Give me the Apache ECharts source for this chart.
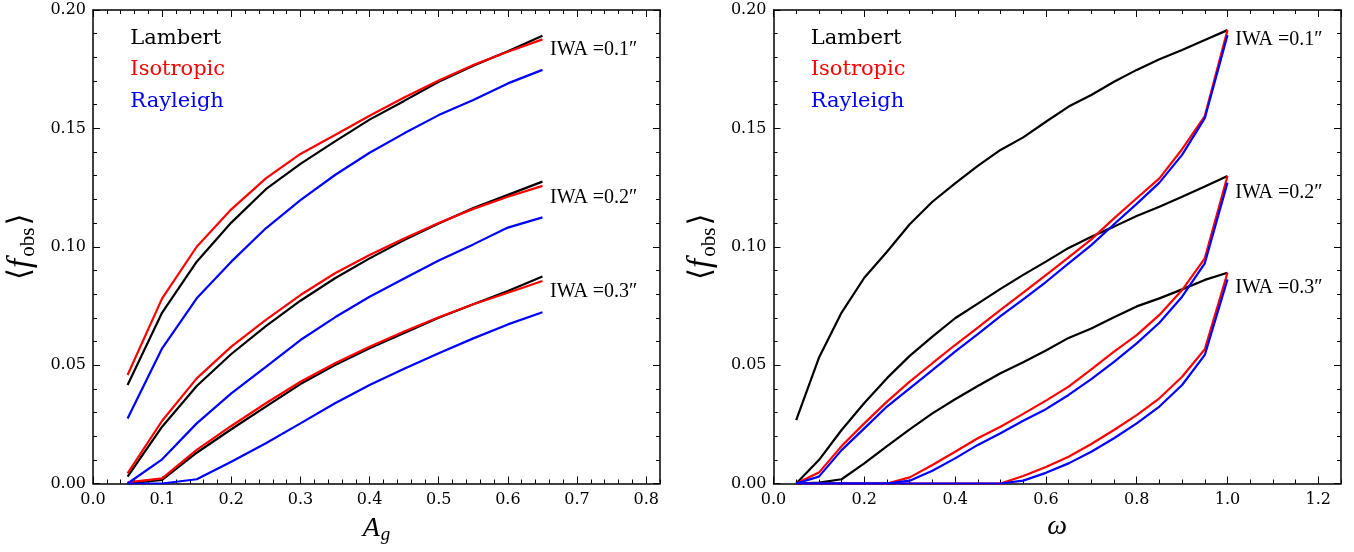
<!DOCTYPE html>
<html><head><meta charset="utf-8">
<script src="https://cdn.jsdelivr.net/npm/echarts@6/dist/echarts.min.js"></script>
<style>html,body{margin:0;padding:0;background:#fff}#c{width:1354px;height:552px}</style>
</head><body><div id="c"></div>
<script>
// ---- data: left panel (x = geometric albedo A_g) ----
const albedo = [0.05,0.10,0.15,0.20,0.25,0.30,0.35,0.40,0.45,0.50,0.55,0.60,0.65];
const agLambert1 = [0.0416,0.0722,0.0937,0.1102,0.1243,0.1350,0.1445,0.1537,0.1616,0.1697,0.1765,0.1826,0.1891];
const agIso1     = [0.0458,0.0782,0.1000,0.1158,0.1289,0.1392,0.1472,0.1553,0.1630,0.1702,0.1768,0.1824,0.1876];
const agRay1     = [0.0275,0.0571,0.0782,0.0937,0.1078,0.1197,0.1303,0.1397,0.1479,0.1556,0.1620,0.1690,0.1747];
const agLambert2 = [0.0029,0.0240,0.0412,0.0547,0.0665,0.0772,0.0867,0.0951,0.1028,0.1098,0.1164,0.1219,0.1275];
const agIso2     = [0.0043,0.0265,0.0444,0.0578,0.0691,0.0796,0.0888,0.0965,0.1035,0.1100,0.1160,0.1211,0.1257];
const agRay2     = [0.0000,0.0102,0.0254,0.0381,0.0493,0.0606,0.0702,0.0789,0.0866,0.0942,0.1010,0.1081,0.1124];
const agLambert3 = [0.0000,0.0015,0.0130,0.0229,0.0325,0.0420,0.0500,0.0571,0.0636,0.0700,0.0757,0.0813,0.0874];
const agIso3     = [0.0005,0.0022,0.0142,0.0243,0.0339,0.0430,0.0508,0.0578,0.0642,0.0702,0.0757,0.0806,0.0855];
const agRay3     = [0.0000,0.0000,0.0018,0.0092,0.0170,0.0254,0.0339,0.0416,0.0485,0.0550,0.0613,0.0672,0.0723];

// ---- data: right panel (x = single scattering albedo omega) ----
const omega = [0.05,0.10,0.15,0.20,0.25,0.30,0.35,0.40,0.45,0.50,0.55,0.60,0.65,0.70,0.75,0.80,0.85,0.90,0.95,1.00];
const wLambert1 = [0.0268,0.0531,0.0722,0.0869,0.0979,0.1095,0.1190,0.1268,0.1342,0.1409,0.1462,0.1528,0.1592,0.1641,0.1697,0.1747,0.1792,0.1831,0.1873,0.1915];
const wIso1     = [0.0000,0.0046,0.0158,0.0254,0.0346,0.0430,0.0508,0.0585,0.0658,0.0733,0.0806,0.0880,0.0955,0.1031,0.1120,0.1205,0.1289,0.1412,0.1552,0.1915];
const wRay1     = [0.0000,0.0029,0.0141,0.0233,0.0325,0.0402,0.0479,0.0557,0.0631,0.0707,0.0778,0.0851,0.0930,0.1007,0.1095,0.1181,0.1271,0.1388,0.1543,0.1894];
const wLambert2 = [0.0000,0.0099,0.0226,0.0340,0.0445,0.0539,0.0620,0.0698,0.0760,0.0822,0.0881,0.0937,0.0995,0.1042,0.1085,0.1130,0.1169,0.1211,0.1254,0.1299];
const wIso2     = [0.0000,0.0000,0.0000,0.0000,0.0000,0.0026,0.0078,0.0134,0.0191,0.0240,0.0294,0.0350,0.0409,0.0482,0.0557,0.0627,0.0712,0.0817,0.0951,0.1299];
const wRay2     = [0.0000,0.0000,0.0000,0.0000,0.0000,0.0012,0.0054,0.0106,0.0163,0.0212,0.0265,0.0314,0.0374,0.0441,0.0514,0.0592,0.0679,0.0789,0.0930,0.1271];
const wLambert3 = [0.0000,0.0004,0.0018,0.0085,0.0158,0.0229,0.0296,0.0356,0.0412,0.0466,0.0512,0.0562,0.0615,0.0655,0.0702,0.0748,0.0782,0.0820,0.0860,0.0890];
const wIso3     = [0.0000,0.0000,0.0000,0.0000,0.0000,0.0000,0.0000,0.0000,0.0000,0.0000,0.0032,0.0070,0.0113,0.0167,0.0226,0.0289,0.0360,0.0451,0.0567,0.0890];
const wRay3     = [0.0000,0.0000,0.0000,0.0000,0.0000,0.0000,0.0000,0.0000,0.0000,0.0000,0.0012,0.0045,0.0085,0.0134,0.0191,0.0254,0.0325,0.0416,0.0543,0.0862];

const modelNames = ['Lambert','Isotropic','Rayleigh'];
const modelColors = ['#000000','#ff0000','#0000ff'];
const iwaLabels = ['IWA =0.1\u2033','IWA =0.2\u2033','IWA =0.3\u2033'];

const leftSets  = [[agLambert1,agIso1,agRay1],[agLambert2,agIso2,agRay2],[agLambert3,agIso3,agRay3]];
const rightSets = [[wLambert1,wIso1,wRay1],[wLambert2,wIso2,wRay2],[wLambert3,wIso3,wRay3]];

const serif = "'DejaVu Serif', serif";
const mathF = "'Liberation Serif', 'DejaVu Serif', serif";

function xAx(gi, max, interval, pos, len, line, label, extra) {
  return Object.assign({
    type:'value', gridIndex:gi, position:pos, min:0, max:max, interval:interval,
    axisLine: line ? {show:true,onZero:false,lineStyle:{color:'#000',width:1.5}} : {show:false,onZero:false},
    axisTick:{show:true,inside:true,length:len,lineStyle:{color:'#000',width:1}},
    axisLabel: label ? {show:true,margin:8,color:'#000',fontFamily:serif,fontSize:16,showMaxLabel:false,
      formatter:function(v){return v.toFixed(1);}} : {show:false},
    splitLine:{show:false}, minorTick:{show:false}, axisPointer:{show:false}
  }, extra||{});
}
function yAx(gi, pos, label, extra) {
  return Object.assign({
    type:'value', gridIndex:gi, position:pos, min:0, max:0.2, interval:0.05,
    axisLine:{show:true,onZero:false,lineStyle:{color:'#000',width:1.5}},
    axisTick:{show:true,inside:true,length:7,lineStyle:{color:'#000',width:1}},
    minorTick:{show:true,splitNumber:5,length:4,lineStyle:{color:'#000',width:1}},
    axisLabel: label ? {show:true,margin:7,color:'#000',fontFamily:serif,fontSize:16,
      formatter:function(v){return v.toFixed(2);}} : {show:false},
    splitLine:{show:false}
  }, extra||{});
}

const yName = {
  name:'{b|\u27E8}{f|f}{s|obs}{b|\u27E9}', nameLocation:'middle', nameGap:54,
  nameTextStyle:{color:'#000', rich:{
    b:{fontFamily:"'DejaVu Sans', sans-serif", fontSize:31, color:'#000'},
    f:{fontFamily:mathF, fontStyle:'italic', fontSize:33, color:'#000', padding:[0,2,0,0]},
    s:{fontFamily:mathF, fontSize:21, color:'#000', padding:[15,2,0,0]}
  }}
};

const xAxes = [
  xAx(0, 0.82, 0.1, 'bottom', 7, true, true, {
    name:'{a|A}{s|g}', nameLocation:'middle', nameGap:30,
    nameTextStyle:{color:'#000', rich:{
      a:{fontFamily:mathF, fontStyle:'italic', fontSize:28, color:'#000'},
      s:{fontFamily:mathF, fontStyle:'italic', fontSize:19, color:'#000', padding:[12,0,0,1]}
    }}}),
  xAx(0, 0.82, 0.02, 'bottom', 4, false, false),
  xAx(0, 0.82, 0.1, 'top', 7, true, false),
  xAx(0, 0.82, 0.02, 'top', 4, false, false),
  xAx(1, 1.25, 0.2, 'bottom', 7, true, true, {
    name:'\u03C9', nameLocation:'middle', nameGap:28,
    nameTextStyle:{color:'#000', fontFamily:mathF, fontStyle:'italic', fontSize:28}}),
  xAx(1, 1.25, 0.05, 'bottom', 4, false, false),
  xAx(1, 1.25, 0.2, 'top', 7, true, false),
  xAx(1, 1.25, 0.05, 'top', 4, false, false)
];
const yAxes = [
  yAx(0, 'left', true, yName),
  yAx(0, 'right', false),
  yAx(1, 'left', true, yName),
  yAx(1, 'right', false)
];

const series = [];
function addSeries(xs, sets, xi, yi) {
  sets.forEach(function(group) {
    group.forEach(function(vals, m) {
      series.push({
        type:'line', name:modelNames[m], xAxisIndex:xi, yAxisIndex:yi,
        data: xs.map(function(x, i){ return [x, vals[i]]; }),
        showSymbol:false, symbol:'none', animation:false, silent:true,
        lineStyle:{color:modelColors[m], width:2.2}, itemStyle:{color:modelColors[m]},
        z: 2 + m
      });
    });
  });
}
addSeries(albedo, leftSets, 0, 0);
addSeries(omega, rightSets, 4, 2);

const chart = echarts.init(document.getElementById('c'), null, {renderer:'canvas'});
chart.setOption({
  animation:false,
  backgroundColor:'#ffffff',
  grid:[
    {left:93, top:10, width:567, height:473.5, containLabel:false, outerBoundsMode:'none'},
    {left:773.5, top:10, width:567.5, height:473.5, containLabel:false, outerBoundsMode:'none'}
  ],
  xAxis:xAxes, yAxis:yAxes, series:series
});

// annotations anchored in data coordinates
const legendAnchorsLeft  = [[0.054,0.1880],[0.054,0.1749],[0.054,0.1614]];
const legendAnchorsRight = [[0.082,0.1880],[0.082,0.1749],[0.082,0.1614]];
const iwaAnchorsLeft  = [[0.661,0.1831],[0.661,0.1208],[0.661,0.0810]];
const iwaAnchorsRight = [[1.017,0.1873],[1.017,0.1226],[1.017,0.0827]];

const graphics = [];
function addTexts(anchors, texts, colors, finder, font) {
  anchors.forEach(function(a, i) {
    const p = chart.convertToPixel(finder, a);
    graphics.push({type:'text', x:p[0], y:p[1], silent:true, z:100,
      style:{text:texts[i], fill:colors[i], font:font, textAlign:'left', textVerticalAlign:'middle'}});
  });
}
const f0 = {xAxisIndex:0, yAxisIndex:0};
const f1 = {xAxisIndex:4, yAxisIndex:2};
addTexts(legendAnchorsLeft, modelNames, modelColors, f0, "21px 'DejaVu Serif'");
addTexts(legendAnchorsRight, modelNames, modelColors, f1, "21px 'DejaVu Serif'");
addTexts(iwaAnchorsLeft, iwaLabels, ['#000','#000','#000'], f0, "20px 'Liberation Serif'");
addTexts(iwaAnchorsRight, iwaLabels, ['#000','#000','#000'], f1, "20px 'Liberation Serif'");
chart.setOption({graphic:graphics});
</script>
</body></html>
